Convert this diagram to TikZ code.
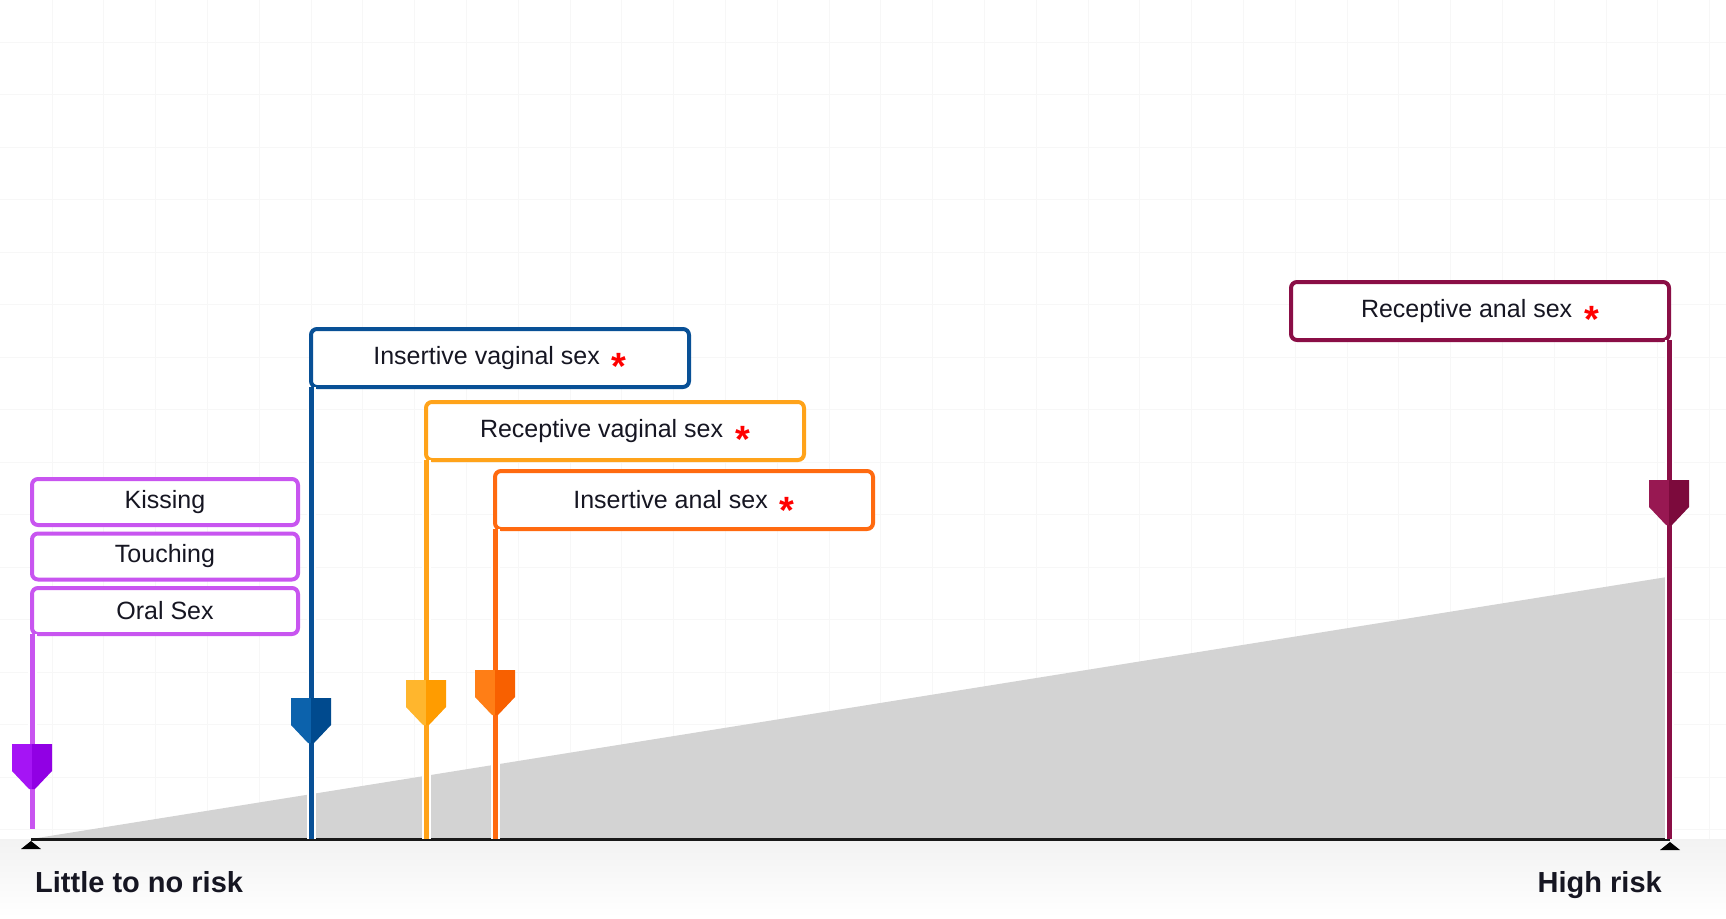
\documentclass[tikz,border=0pt]{standalone}
\usepackage{fontspec}
\setmainfont{Liberation Sans}
\usepackage{tikz}
\usetikzlibrary{positioning,calc}
\definecolor{violetline}{RGB}{200,85,240}
\definecolor{violetlight}{RGB}{165,20,245}
\definecolor{violetdark}{RGB}{145,0,228}
\definecolor{blueline}{RGB}{8,80,150}
\definecolor{bluelight}{RGB}{12,98,172}
\definecolor{bluedark}{RGB}{0,74,142}
\definecolor{amberline}{RGB}{255,163,26}
\definecolor{amberlight}{RGB}{255,182,45}
\definecolor{amberdark}{RGB}{255,156,0}
\definecolor{orangeline}{RGB}{255,106,16}
\definecolor{orangelight}{RGB}{255,126,22}
\definecolor{orangedark}{RGB}{248,96,0}
\definecolor{maroonline}{RGB}{138,14,70}
\definecolor{maroonlight}{RGB}{152,24,82}
\definecolor{maroondark}{RGB}{124,10,60}
\definecolor{riskgray}{RGB}{211,211,211}
\definecolor{inktext}{RGB}{22,22,34}
\tikzset{
  act/.style={draw=#1,fill=white,line width=4pt,rounded corners=6pt,outer sep=0pt,
    minimum width=378pt,minimum height=58pt,inner sep=0pt,text=inktext,
    font=\fontsize{25}{30}\selectfont},
  softact/.style={act=#1,minimum width=266pt,minimum height=46pt},
  pinline/.style={draw=#1,line width=5pt,preaction={draw=white,line width=9pt}},
  gridline/.style={draw=black!3,line width=1pt},
  endlabel/.style={font=\fontsize{29}{34}\selectfont\bfseries,text=inktext,inner sep=0pt}
}
\newcommand{\riskstar}{\hspace{12pt}{\color{red}\fontsize{38}{38}\selectfont\bfseries\raisebox{-15pt}[0pt][0pt]{*}}}
\newcommand{\riskpin}[4]{%
  \fill[#3] (#1-20,#2) -- (#1,#2) -- (#1,#2+45) -- (#1-3,#2+45) -- (#1-20,#2+27) -- cycle;
  \fill[#4] (#1,#2) -- (#1+20,#2) -- (#1+20,#2+27) -- (#1+3,#2+45) -- (#1,#2+45) -- cycle;}
\begin{document}
\begin{tikzpicture}[x=1pt,y=-1pt]
\useasboundingbox (0,0) rectangle (1726,918);
% background
\fill[white] (0,0) rectangle (1726,839);
\shade[top color=black!5,bottom color=white] (0,839) rectangle (1726,918);
\foreach \i in {0,...,33} \draw[gridline] (52+\i*51.8,0) -- (52+\i*51.8,839);
\foreach \j in {0,...,15} \draw[gridline] (0,42+\j*52.5) -- (1726,42+\j*52.5);
% risk scale
\coordinate (lo) at (31,839);
\coordinate (hi) at (1670,839);
\coordinate (top) at (1667,577);
\fill[riskgray] (lo) -- (top) -- (top|-hi) -- cycle;
\draw[line width=3pt,black!90] (lo) -- (hi);
\fill[black] ($(lo)+(0,2)$) -- ++(10,8) -- ++(-20,0) -- cycle;
\fill[black] ($(hi)+(0,3)$) -- ++(10,8) -- ++(-20,0) -- cycle;
\node[endlabel,anchor=base west] (lowlbl) at (35,892) {Little to no risk};
\node[endlabel,anchor=base east] (highlbl) at (1662,892) {High risk};
% activities
\node[softact=violetline,anchor=north west] (kiss) at (32,479) {Kissing};
\node[softact=violetline,below=8.5pt of kiss] (touch) {Touching};
\node[softact=violetline,below=8.5pt of touch] (oral) {Oral Sex};
\node[act=blueline,anchor=north west] (ivs) at (311,329) {Insertive vaginal sex\riskstar};
\node[act=amberline,anchor=north west] (rvs) at (426,402) {Receptive vaginal sex\riskstar};
\node[act=orangeline,anchor=north west] (ias) at (495,471) {Insertive anal sex\riskstar};
\node[act=maroonline,anchor=north east] (ras) at (1669,282) {Receptive anal sex\riskstar};
% pins
\coordinate (pk) at (32,829);
\coordinate (pv) at (311,839);
\coordinate (pr) at (426,839);
\coordinate (pa) at (495,839);
\coordinate (pm) at (1669,839);
\draw[pinline=violetline] (oral.south west) -- (pk);
\draw[pinline=blueline] (ivs.south west) -- (pv);
\draw[pinline=amberline] (rvs.south west) -- (pr);
\draw[pinline=orangeline] (ias.south west) -- (pa);
\draw[pinline=maroonline] (ras.south east) -- (pm);
\riskpin{32}{744}{violetlight}{violetdark}
\riskpin{311}{698}{bluelight}{bluedark}
\riskpin{426}{680}{amberlight}{amberdark}
\riskpin{495}{670}{orangelight}{orangedark}
\riskpin{1669}{480}{maroonlight}{maroondark}
\end{tikzpicture}
\end{document}
